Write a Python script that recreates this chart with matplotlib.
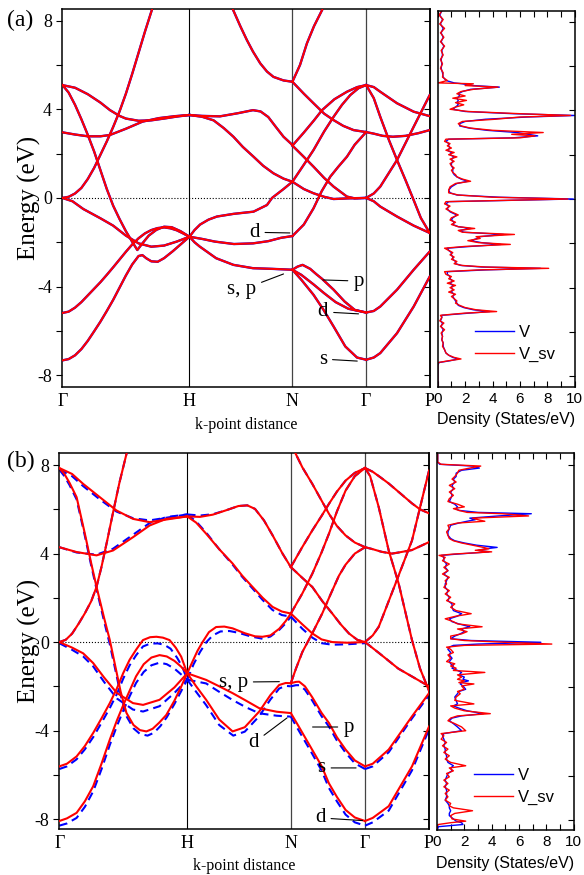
import matplotlib.pyplot as plt

plt.rcParams["font.family"] = ["Liberation Serif", "DejaVu Serif"]

# high-symmetry points along the path (k-point distance)
k_ticks = [0.0, 1.0, 1.81, 2.39, 2.89]
k_labels = ["Γ", "H", "N", "Γ", "P"]

# ---------------- panel (a) bands, (k, E) pairs ----------------
a_GH_steep = [(0, 5.1), (0.05, 4.75), (0.1, 4.2), (0.15, 3.55), (0.2, 2.85), (0.25, 2.1), (0.3, 1.25),
              (0.35, 0.4), (0.4, -0.35), (0.45, -0.95), (0.5, -1.5), (0.55, -1.98), (0.59, -2.35),
              (0.63, -2.05), (0.68, -1.7), (0.74, -1.44), (0.8, -1.3), (0.86, -1.32), (0.93, -1.5), (1.0, -1.75)]
a_GH_up = [(0, 0.0), (0.05, 0.05), (0.1, 0.2), (0.15, 0.45), (0.2, 0.85), (0.25, 1.35), (0.3, 1.95),
           (0.35, 2.55), (0.4, 3.2), (0.45, 3.9), (0.5, 4.7), (0.55, 5.6), (0.6, 6.55), (0.65, 7.5),
           (0.7, 8.4), (0.75, 9.3)]
a_GH_3 = [(0, 2.96), (0.1, 2.86), (0.2, 2.78), (0.3, 2.78), (0.375, 2.84), (0.5, 3.12), (0.63, 3.44),
          (0.76, 3.6), (0.89, 3.69), (1.0, 3.74)]
a_GH_5 = [(0, 5.09), (0.1, 4.97), (0.2, 4.68), (0.3, 4.3), (0.375, 3.96), (0.45, 3.7), (0.5, 3.58),
          (0.6, 3.48), (0.7, 3.5), (0.8, 3.58), (0.9, 3.67), (1.0, 3.74)]
a_GH_s = [(0, -7.33), (0.05, -7.27), (0.1, -7.1), (0.15, -6.82), (0.2, -6.45), (0.25, -6.02), (0.3, -5.58),
          (0.35, -5.1), (0.4, -4.6), (0.45, -4.05), (0.5, -3.5), (0.55, -3.0), (0.6, -2.62), (0.63, -2.58),
          (0.66, -2.72), (0.7, -2.86), (0.75, -2.88), (0.8, -2.72), (0.87, -2.4), (0.94, -2.05), (1.0, -1.75)]
a_GH_d = [(0, -5.19), (0.05, -5.13), (0.1, -4.95), (0.15, -4.7), (0.2, -4.4), (0.25, -4.1), (0.3, -3.8),
          (0.35, -3.47), (0.4, -3.13), (0.45, -2.78), (0.5, -2.43), (0.55, -2.1), (0.6, -1.82), (0.65, -1.6),
          (0.7, -1.45), (0.75, -1.36), (0.8, -1.33), (0.85, -1.37), (0.9, -1.46), (0.95, -1.6), (1.0, -1.75)]
a_GH_down = [(0, 0.0), (0.08, -0.15), (0.165, -0.5), (0.3, -0.92), (0.4, -1.25), (0.5, -1.7), (0.6, -2.05),
             (0.7, -2.2), (0.8, -2.15), (0.9, -1.97), (1.0, -1.75)]

a_HN_1 = [(1.0, 3.74), (1.1, 3.7), (1.24, 3.68), (1.38, 3.82), (1.5, 3.96), (1.56, 3.9), (1.62, 3.65),
          (1.68, 3.2), (1.74, 2.76), (1.81, 2.39)]
a_HN_2 = [(1.0, 3.74), (1.1, 3.66), (1.19, 3.5), (1.27, 3.15), (1.346, 2.76), (1.42, 2.3), (1.504, 1.86),
          (1.58, 1.45), (1.661, 1.11), (1.74, 0.87), (1.81, 0.73)]
a_HN_3 = [(1.3, 9.0), (1.346, 8.45), (1.4, 7.75), (1.452, 7.12), (1.5, 6.6), (1.557, 6.07), (1.61, 5.7),
          (1.661, 5.46), (1.74, 5.3), (1.81, 5.24)]
a_HN_4 = [(1.0, -1.75), (1.04, -1.45), (1.084, -1.2), (1.15, -0.98), (1.216, -0.84), (1.346, -0.72),
          (1.504, -0.62), (1.61, -0.32), (1.65, 0.0), (1.74, 0.4), (1.81, 0.73)]
a_HN_5 = [(1.0, -1.75), (1.1, -1.85), (1.2, -1.97), (1.35, -2.08), (1.5, -2.05), (1.62, -1.95),
          (1.72, -1.8), (1.81, -1.72)]
a_HN_6 = [(1.0, -1.75), (1.04, -2.0), (1.08, -2.19), (1.21, -2.72), (1.346, -3.02), (1.5, -3.17),
          (1.65, -3.2), (1.81, -3.24)]

a_NG_1 = [(1.81, 5.24), (1.87, 6.0), (1.924, 6.97), (1.98, 7.75), (2.043, 8.47), (2.1, 9.2)]
a_NG_2 = [(1.81, 5.24), (1.9, 4.7), (1.976, 4.27), (2.06, 3.8), (2.134, 3.51), (2.21, 3.25), (2.291, 3.06),
          (2.39, 2.97)]
a_NG_3 = [(1.81, 2.36), (1.9, 2.95), (1.98, 3.5), (2.043, 3.96), (2.14, 4.45), (2.239, 4.79), (2.32, 5.0),
          (2.39, 5.09)]
a_NG_4 = [(1.81, 2.36), (1.9, 1.85), (1.976, 1.41), (2.06, 0.9), (2.134, 0.51), (2.239, 0.06), (2.3, -0.02),
          (2.39, 0.0)]
a_NG_5 = [(1.81, 0.73), (1.9, 1.5), (1.976, 2.16), (2.06, 3.0), (2.134, 3.66), (2.2, 4.2), (2.265, 4.64),
          (2.33, 4.95), (2.39, 5.09)]
a_NG_6 = [(1.81, -1.72), (1.9, -1.2), (1.976, -0.47), (2.04, 0.3), (2.108, 0.96), (2.17, 1.4), (2.239, 1.86),
          (2.3, 2.4), (2.39, 2.97)]
a_NG_7 = [(1.81, 0.73), (1.9, 0.4), (1.976, 0.21), (2.06, 0.05), (2.134, -0.05), (2.25, -0.02), (2.39, 0.0)]
a_NG_p = [(1.81, -3.24), (1.85, -3.1), (1.89, -3.02), (1.95, -3.2), (2.0, -3.45), (2.043, -3.65),
          (2.134, -4.14), (2.22, -4.67), (2.3, -5.05), (2.39, -5.17)]
a_NG_d = [(1.81, -3.24), (1.88, -3.47), (1.976, -3.9), (2.06, -4.3), (2.15, -4.7), (2.25, -5.0), (2.39, -5.17)]
a_NG_s = [(1.81, -3.24), (1.88, -3.69), (1.976, -4.37), (2.055, -5.05), (2.134, -5.8), (2.226, -6.7),
          (2.318, -7.2), (2.39, -7.3)]

a_GP_1 = [(2.39, 5.09), (2.45, 5.0), (2.501, 4.79), (2.633, 4.27), (2.764, 3.89), (2.89, 3.69)]
a_GP_2 = [(2.39, 5.09), (2.45, 4.5), (2.501, 3.66), (2.57, 2.6), (2.633, 1.71), (2.7, 0.8), (2.764, -0.1),
          (2.82, -0.9), (2.89, -1.58)]
a_GP_3 = [(2.39, 2.97), (2.45, 2.9), (2.52, 2.8), (2.6, 2.76), (2.7, 2.8), (2.8, 2.92), (2.89, 3.06)]
a_GP_4 = [(2.39, 0.0), (2.45, 0.2), (2.501, 0.51), (2.633, 1.71), (2.764, 3.21), (2.89, 4.64)]
a_GP_5 = [(2.39, 0.0), (2.45, -0.15), (2.501, -0.39), (2.633, -0.84), (2.764, -1.25), (2.89, -1.58)]
a_GP_6 = [(2.39, -5.17), (2.45, -5.1), (2.501, -4.9), (2.633, -4.14), (2.764, -3.24), (2.89, -2.42)]
a_GP_7 = [(2.39, -7.3), (2.45, -7.2), (2.501, -7.0), (2.633, -6.1), (2.764, -4.9), (2.89, -3.55)]

bands_a = [a_GH_steep, a_GH_up, a_GH_3, a_GH_5, a_GH_s, a_GH_d, a_GH_down,
           a_HN_1, a_HN_2, a_HN_3, a_HN_4, a_HN_5, a_HN_6,
           a_NG_1, a_NG_2, a_NG_3, a_NG_4, a_NG_5, a_NG_6, a_NG_7, a_NG_p, a_NG_d, a_NG_s,
           a_GP_1, a_GP_2, a_GP_3, a_GP_4, a_GP_5, a_GP_6, a_GP_7]

# ---------------- panel (b) bands: V_sv (red) and V (blue) ----------------
b_GH_1 = [(0, 7.87), (0.1, 7.6), (0.187, 7.15), (0.317, 6.55), (0.447, 5.95), (0.576, 5.57), (0.706, 5.42),
          (0.836, 5.54), (1.0, 5.68)]
b_GH_1_V = [(0, 7.8), (0.1, 7.5), (0.187, 7.05), (0.317, 6.45), (0.447, 5.9), (0.576, 5.6), (0.706, 5.5),
            (0.836, 5.62), (1.0, 5.77)]
b_GH_2 = [(0, 7.87), (0.04, 7.6), (0.08, 7.2), (0.1355, 6.55), (0.2, 4.9), (0.25, 3.55), (0.291, 2.5),
          (0.35, 1.1), (0.395, 0.09), (0.44, -1.15), (0.48, -2.25), (0.525, -3.2), (0.58, -3.75),
          (0.63, -3.98), (0.681, -4.04), (0.73, -3.92), (0.78, -3.65), (0.836, -3.3), (0.9, -2.65),
          (0.95, -2.05), (1.0, -1.41)]
b_GH_2_V = [(0, 7.8), (0.04, 7.5), (0.08, 7.1), (0.1355, 6.45), (0.2, 4.8), (0.25, 3.45), (0.291, 2.4),
            (0.35, 0.95), (0.395, -0.1), (0.44, -1.3), (0.48, -2.4), (0.525, -3.35), (0.58, -3.9),
            (0.63, -4.15), (0.69, -4.23), (0.74, -4.1), (0.79, -3.8), (0.84, -3.4), (0.9, -2.8),
            (0.95, -2.25), (1.0, -1.7)]
b_GH_3 = [(0, 4.29), (0.1355, 4.07), (0.291, 3.92), (0.42, 4.14), (0.576, 4.74), (0.706, 5.27),
          (0.836, 5.57), (1.0, 5.68)]
b_GH_3_V = [(0, 4.29), (0.1355, 4.05), (0.291, 3.95), (0.42, 4.22), (0.576, 4.85), (0.706, 5.38),
            (0.836, 5.65), (1.0, 5.77)]
b_GH_4 = [(0, 0.0), (0.05, 0.1), (0.1, 0.38), (0.15, 0.82), (0.2, 1.3), (0.25, 1.85), (0.291, 2.49),
          (0.33, 3.4), (0.375, 4.6), (0.42, 5.85), (0.47, 7.2), (0.525, 8.5), (0.56, 9.3)]
b_GH_5 = [(0, 0.0), (0.1, -0.25), (0.187, -0.51), (0.265, -0.95), (0.35, -1.6), (0.45, -2.3),
          (0.576, -2.76), (0.655, -2.84), (0.784, -2.61), (0.9, -2.05), (1.0, -1.41)]
b_GH_5_V = [(0, -0.05), (0.1, -0.35), (0.187, -0.65), (0.265, -1.1), (0.35, -1.8), (0.45, -2.55),
            (0.576, -3.05), (0.655, -3.14), (0.784, -2.9), (0.9, -2.3), (1.0, -1.7)]
b_GH_6 = [(0, -5.62), (0.06, -5.5), (0.1355, -5.17), (0.2, -4.7), (0.265, -4.11), (0.33, -3.45),
          (0.395, -2.76), (0.45, -2.1), (0.5, -1.4), (0.55, -0.8), (0.6, -0.35), (0.654, 0.09),
          (0.71, 0.22), (0.759, 0.24), (0.81, 0.2), (0.862, 0.09), (0.91, -0.25), (0.953, -0.66), (1.0, -1.41)]
b_GH_6_V = [(0, -5.74), (0.06, -5.62), (0.1355, -5.3), (0.2, -4.85), (0.265, -4.3), (0.33, -3.65),
            (0.395, -2.98), (0.45, -2.35), (0.5, -1.65), (0.55, -1.05), (0.6, -0.6), (0.654, -0.2),
            (0.71, -0.07), (0.77, -0.06), (0.82, -0.12), (0.87, -0.3), (0.92, -0.7), (0.96, -1.1), (1.0, -1.7)]
b_GH_7 = [(0, -8.09), (0.06, -7.97), (0.1355, -7.72), (0.2, -7.2), (0.265, -6.52), (0.33, -5.5),
          (0.395, -4.41), (0.45, -3.55), (0.5, -2.85), (0.55, -2.2), (0.6, -1.55), (0.66, -1.0),
          (0.72, -0.7), (0.784, -0.59), (0.84, -0.65), (0.9, -0.85), (0.95, -1.1), (1.0, -1.41)]
b_GH_7_V = [(0, -8.3), (0.06, -8.2), (0.1355, -7.95), (0.2, -7.45), (0.265, -6.75), (0.33, -5.75),
            (0.395, -4.65), (0.45, -3.8), (0.5, -3.1), (0.55, -2.45), (0.6, -1.85), (0.66, -1.35),
            (0.72, -1.05), (0.784, -0.93), (0.84, -1.0), (0.9, -1.2), (0.95, -1.45), (1.0, -1.7)]

b_HN_1 = [(1.0, 5.68), (1.1, 5.66), (1.2, 5.76), (1.3, 5.95), (1.4, 6.15), (1.47, 6.18), (1.53, 6.02),
          (1.6, 5.5), (1.67, 4.8), (1.745, 4.0), (1.81, 3.39)]
b_HN_1_V = [(1.0, 5.77), (1.1, 5.72), (1.2, 5.78), (1.3, 5.95), (1.4, 6.15), (1.47, 6.18), (1.53, 6.02),
            (1.6, 5.5), (1.67, 4.8), (1.745, 4.0), (1.81, 3.39)]
b_HN_2 = [(1.0, 5.68), (1.07, 5.4), (1.148, 4.9), (1.25, 4.2), (1.355, 3.55), (1.43, 3.0), (1.511, 2.49),
          (1.59, 2.0), (1.667, 1.59), (1.74, 1.38), (1.81, 1.29)]
b_HN_2_V = [(1.0, 5.77), (1.07, 5.45), (1.148, 4.95), (1.25, 4.2), (1.355, 3.5), (1.43, 2.95), (1.511, 2.42),
            (1.59, 1.9), (1.667, 1.45), (1.74, 1.22), (1.81, 1.15)]
b_HN_3 = [(1.0, -1.41), (1.04, -0.9), (1.08, -0.4), (1.12, 0.0), (1.17, 0.45), (1.226, 0.68), (1.29, 0.7),
          (1.355, 0.62), (1.45, 0.4), (1.53, 0.26), (1.589, 0.24), (1.65, 0.3), (1.719, 0.6), (1.77, 0.95),
          (1.81, 1.29)]
b_HN_3_V = [(1.0, -1.7), (1.05, -1.0), (1.1, -0.45), (1.15, 0.0), (1.2, 0.3), (1.26, 0.48), (1.33, 0.5),
            (1.4, 0.42), (1.5, 0.25), (1.589, 0.15), (1.65, 0.25), (1.719, 0.55), (1.77, 0.85), (1.81, 1.15)]
b_HN_4 = [(1.0, -1.41), (1.148, -1.71), (1.25, -2.0), (1.355, -2.31), (1.46, -2.65), (1.563, -2.99),
          (1.7, -3.15), (1.81, -3.21)]
b_HN_4_V = [(1.0, -1.7), (1.148, -1.87), (1.25, -2.25), (1.355, -2.62), (1.46, -2.95), (1.563, -3.22),
            (1.7, -3.33), (1.81, -3.37)]
b_HN_5 = [(1.0, -1.41), (1.07, -2.0), (1.148, -2.61), (1.25, -3.5), (1.355, -4.04), (1.45, -3.85),
          (1.563, -3.14), (1.65, -2.4), (1.719, -1.94), (1.77, -1.85), (1.81, -1.86)]
b_HN_5_V = [(1.0, -1.7), (1.07, -2.25), (1.148, -2.85), (1.25, -3.75), (1.36, -4.23), (1.45, -4.05),
            (1.563, -3.35), (1.65, -2.6), (1.719, -2.1), (1.77, -1.98), (1.81, -2.0)]
b_HN_6 = [(1.81, 8.95), (1.77, 9.6)]

b_NG_1 = [(1.81, 8.95), (1.849, 8.5), (1.9, 7.9), (1.978, 7.15), (2.05, 6.4), (2.108, 5.8), (2.17, 5.25),
          (2.238, 4.82), (2.31, 4.5), (2.39, 4.29)]
b_NG_2 = [(1.81, 3.39), (1.9, 4.3), (1.978, 5.05), (2.05, 5.7), (2.108, 6.25), (2.17, 6.8), (2.238, 7.3),
          (2.31, 7.65), (2.39, 7.87)]
b_NG_3 = [(1.81, 3.39), (1.9, 2.9), (1.978, 2.49), (2.056, 1.85), (2.134, 1.29), (2.2, 0.8), (2.264, 0.39),
          (2.33, 0.1), (2.39, 0.0)]
b_NG_4 = [(1.81, 1.29), (1.9, 2.2), (1.978, 3.09), (2.05, 4.05), (2.108, 4.9), (2.17, 5.9), (2.238, 6.85),
          (2.31, 7.5), (2.39, 7.87)]
b_NG_5 = [(1.81, 1.29), (1.9, 0.8), (1.978, 0.39), (2.05, 0.12), (2.134, 0.0), (2.25, -0.03), (2.39, 0.0)]
b_NG_5_V = [(1.81, 1.15), (1.9, 0.6), (1.978, 0.2), (2.05, -0.05), (2.134, -0.12), (2.25, -0.1), (2.39, -0.05)]
b_NG_6 = [(1.81, -1.86), (1.85, -1.2), (1.9, -0.45), (1.978, 0.4), (2.056, 1.3), (2.12, 2.15), (2.186, 3.0),
          (2.238, 3.5), (2.31, 4.0), (2.39, 4.29)]
b_NG_7 = [(1.81, -1.86), (1.85, -1.8), (1.875, -1.79), (1.92, -2.0), (1.978, -2.5), (2.05, -3.2),
          (2.108, -3.66), (2.17, -4.3), (2.238, -4.86), (2.31, -5.35), (2.39, -5.62)]
b_NG_7_V = [(1.81, -2.0), (1.85, -1.95), (1.875, -1.95), (1.92, -2.15), (1.978, -2.65), (2.05, -3.35),
            (2.108, -3.82), (2.17, -4.45), (2.238, -5.0), (2.31, -5.48), (2.39, -5.74)]
b_NG_8 = [(1.81, -3.21), (1.87, -3.8), (1.978, -4.88), (2.05, -5.6), (2.108, -6.39), (2.17, -7.0),
          (2.238, -7.59), (2.31, -7.93), (2.39, -8.09)]
b_NG_8_V = [(1.81, -3.37), (1.87, -3.98), (1.978, -5.06), (2.05, -5.8), (2.108, -6.6), (2.17, -7.2),
            (2.238, -7.8), (2.31, -8.15), (2.39, -8.3)]

b_GP_1 = [(2.39, 7.87), (2.45, 7.7), (2.51, 7.45), (2.575, 7.17), (2.65, 6.8), (2.757, 6.27), (2.82, 6.0),
          (2.89, 5.82)]
b_GP_2 = [(2.39, 7.87), (2.43, 7.5), (2.497, 6.1), (2.575, 4.14), (2.653, 2.64), (2.757, 0.09), (2.82, -1.2),
          (2.89, -2.2)]
b_GP_3 = [(2.39, 4.29), (2.45, 4.2), (2.52, 4.08), (2.601, 4.0), (2.653, 4.05), (2.757, 4.16), (2.89, 4.52)]
b_GP_4 = [(2.39, 0.0), (2.45, 0.3), (2.497, 0.69), (2.628, 2.64), (2.757, 4.59), (2.89, 7.75)]
b_GP_5 = [(2.39, 0.0), (2.5, -0.5), (2.65, -1.2), (2.89, -2.0)]
b_GP_6 = [(2.39, -5.62), (2.45, -5.5), (2.575, -4.86), (2.757, -3.36), (2.89, -2.31)]
b_GP_6_V = [(2.39, -5.74), (2.45, -5.62), (2.575, -4.98), (2.757, -3.45), (2.89, -2.4)]
b_GP_7 = [(2.39, -8.09), (2.45, -7.95), (2.575, -7.42), (2.757, -5.62), (2.89, -3.82)]
b_GP_7_V = [(2.39, -8.3), (2.45, -8.15), (2.575, -7.62), (2.757, -5.8), (2.89, -3.95)]

# (red, blue) pairs; blue equals red where the two lie on top of each other
bands_b = [(b_GH_1, b_GH_1_V), (b_GH_2, b_GH_2_V), (b_GH_3, b_GH_3_V), (b_GH_4, b_GH_4), (b_GH_5, b_GH_5_V),
           (b_GH_6, b_GH_6_V), (b_GH_7, b_GH_7_V), (b_HN_1, b_HN_1_V), (b_HN_2, b_HN_2_V), (b_HN_3, b_HN_3_V),
           (b_HN_4, b_HN_4_V), (b_HN_5, b_HN_5_V), (b_HN_6, b_HN_6), (b_NG_1, b_NG_1), (b_NG_2, b_NG_2),
           (b_NG_3, b_NG_3), (b_NG_4, b_NG_4), (b_NG_5, b_NG_5_V), (b_NG_6, b_NG_6), (b_NG_7, b_NG_7_V),
           (b_NG_8, b_NG_8_V), (b_GP_1, b_GP_1), (b_GP_2, b_GP_2), (b_GP_3, b_GP_3), (b_GP_4, b_GP_4),
           (b_GP_5, b_GP_5), (b_GP_6, b_GP_6_V), (b_GP_7, b_GP_7_V)]

# ---------------- density of states ----------------
dos_a_E = [8.5, 8.3, 8.1, 7.9, 7.7, 7.5, 7.3, 7.1, 6.9, 6.7, 6.5, 6.3, 6.1, 5.9, 5.7, 5.5, 5.35, 5.24, 5.2,
           5.12, 5.05, 4.95, 4.85, 4.75, 4.65, 4.55, 4.45, 4.35, 4.25, 4.15, 4.05, 3.95, 3.85, 3.77, 3.7, 3.6,
           3.5, 3.4, 3.3, 3.2, 3.1, 3.0, 2.92, 2.85, 2.76, 2.7, 2.6, 2.5, 2.4, 2.3, 2.2, 2.1, 2.0, 1.9, 1.8,
           1.7, 1.6, 1.5, 1.4, 1.3, 1.2, 1.1, 1.0, 0.9, 0.8, 0.7, 0.55, 0.4, 0.28, 0.18, 0.08, 0.0, -0.06,
           -0.12, -0.22, -0.32, -0.45, -0.58, -0.72, -0.85, -0.95, -1.05, -1.15, -1.25, -1.33, -1.42, -1.5,
           -1.6, -1.7, -1.78, -1.88, -1.97, -2.05, -2.14, -2.22, -2.32, -2.42, -2.52, -2.62, -2.72, -2.82,
           -2.92, -3.0, -3.07, -3.13, -3.2, -3.28, -3.4, -3.5, -3.6, -3.7, -3.8, -3.9, -4.0, -4.1, -4.2, -4.3,
           -4.4, -4.5, -4.6, -4.7, -4.8, -4.9, -5.0, -5.08, -5.15, -5.25, -5.35, -5.5, -5.6, -5.75, -5.9,
           -6.05, -6.2, -6.35, -6.5, -6.65, -6.8, -6.95, -7.05, -7.15, -7.22, -7.3, -7.38, -7.5, -8.5]
dos_a_Vsv = [0.3, 0.1, 0.4, 0.15, 0.5, 0.2, 0.45, 0.2, 0.5, 0.25, 0.4, 0.2, 0.35, 0.2, 0.4, 0.35, 0.7, 0.05,
             2.6, 2.0, 4.4, 2.6, 1.7, 1.4, 2.0, 1.1, 2.1, 1.3, 1.9, 1.3, 0.9, 2.2, 6.0, 9.7, 6.0, 4.2, 1.8, 1.5,
             1.7, 2.4, 4.0, 7.7, 5.4, 7.1, 6.0, 0.6, 0.5, 0.9, 0.7, 1.0, 0.6, 1.2, 0.8, 1.4, 0.9, 1.2, 0.9,
             1.0, 1.2, 1.0, 1.1, 1.3, 1.4, 1.8, 2.4, 1.3, 0.9, 0.8, 0.8, 1.5, 4.0, 9.5, 5.0, 0.6, 0.5, 0.9,
             0.6, 1.0, 1.5, 1.0, 0.9, 1.3, 1.0, 1.5, 2.7, 1.5, 1.8, 5.6, 2.8, 3.1, 2.2, 3.0, 5.3, 2.0, 0.5,
             0.8, 1.1, 0.9, 1.2, 1.0, 1.4, 1.2, 1.8, 3.5, 8.1, 3.0, 0.5, 0.6, 1.0, 0.8, 1.2, 0.7, 1.3, 0.9,
             1.2, 0.8, 1.3, 1.0, 1.2, 1.4, 1.3, 1.6, 2.0, 2.8, 4.3, 2.0, 0.2, 0.3, 0.15, 0.45, 0.2, 0.5, 0.25,
             0.35, 0.3, 0.4, 0.35, 0.5, 0.6, 0.8, 1.2, 1.7, 0.8, 0.05, 0.0, 0.0]
dos_a_V = [0.3, 0.15, 0.35, 0.2, 0.4, 0.25, 0.4, 0.25, 0.45, 0.3, 0.35, 0.25, 0.3, 0.25, 0.35, 0.4, 0.6, 1.2,
           1.8, 2.6, 4.5, 2.4, 1.8, 1.5, 1.6, 1.4, 1.5, 1.4, 1.5, 1.3, 1.1, 2.0, 5.5, 10.0, 6.5, 3.5, 2.0, 1.6,
           1.6, 2.3, 3.6, 5.8, 6.6, 7.3, 5.5, 0.8, 0.6, 0.8, 0.8, 0.9, 0.7, 1.0, 0.9, 1.2, 1.0, 1.1, 1.0, 1.0,
           1.1, 1.1, 1.1, 1.2, 1.4, 1.7, 2.2, 1.4, 1.0, 0.8, 0.9, 1.4, 4.5, 9.9, 5.5, 0.8, 0.6, 0.8, 0.7, 0.9,
           1.4, 1.1, 1.0, 1.2, 1.1, 1.5, 2.4, 1.6, 1.9, 4.8, 3.1, 2.9, 2.4, 3.2, 4.6, 2.4, 0.7, 0.8, 1.0, 1.0,
           1.1, 1.1, 1.3, 1.3, 1.7, 3.2, 7.5, 3.5, 0.7, 0.7, 0.9, 0.9, 1.1, 0.9, 1.1, 1.0, 1.1, 1.0, 1.2, 1.1,
           1.2, 1.3, 1.4, 1.5, 1.9, 2.6, 3.8, 2.3, 0.3, 0.3, 0.2, 0.35, 0.25, 0.4, 0.3, 0.35, 0.3, 0.4, 0.4,
           0.5, 0.6, 0.8, 1.1, 1.5, 0.9, 0.1, 0.0, 0.0]

dos_b_E = [8.5, 8.15, 8.05, 7.97, 7.88, 7.78, 7.65, 7.5, 7.38, 7.25, 7.1, 6.95, 6.8, 6.65, 6.5, 6.37, 6.25,
           6.13, 6.05, 5.97, 5.88, 5.82, 5.72, 5.62, 5.55, 5.48, 5.4, 5.3, 5.15, 5.0, 4.85, 4.7, 4.6, 4.5,
           4.4, 4.3, 4.24, 4.17, 4.1, 4.0, 3.94, 3.85, 3.7, 3.55, 3.4, 3.25, 3.1, 2.95, 2.8, 2.65, 2.5, 2.35,
           2.2, 2.05, 1.9, 1.75, 1.6, 1.45, 1.31, 1.2, 1.08, 0.95, 0.85, 0.72, 0.62, 0.5, 0.4, 0.3, 0.18, 0.1,
           0.02, -0.06, -0.12, -0.2, -0.3, -0.44, -0.55, -0.7, -0.85, -0.95, -1.05, -1.15, -1.25, -1.34,
           -1.45, -1.55, -1.65, -1.72, -1.8, -1.86, -1.95, -2.1, -2.2, -2.3, -2.45, -2.6, -2.76, -2.85, -2.95,
           -3.07, -3.2, -3.3, -3.4, -3.52, -3.65, -3.8, -3.97, -4.1, -4.2, -4.35, -4.5, -4.65, -4.8, -4.95,
           -5.1, -5.25, -5.4, -5.55, -5.65, -5.78, -5.9, -6.05, -6.2, -6.35, -6.5, -6.65, -6.8, -6.95, -7.1,
           -7.25, -7.36, -7.45, -7.58, -7.7, -7.8, -7.95, -8.05, -8.12, -8.2, -8.3, -8.5]
dos_b_Vsv = [0.05, 0.05, 0.3, 3.2, 2.4, 1.6, 1.5, 1.3, 1.1, 1.4, 0.9, 1.3, 0.9, 1.2, 0.9, 0.8, 1.5, 2.0, 1.2,
             1.6, 2.2, 4.8, 6.7, 2.6, 3.0, 3.5, 1.5, 0.8, 0.9, 0.7, 0.8, 0.9, 1.2, 1.8, 2.6, 3.4, 3.8, 2.8,
             4.0, 1.2, 0.15, 0.6, 0.4, 0.9, 0.5, 0.8, 0.4, 0.9, 0.6, 0.7, 0.5, 0.9, 0.6, 1.0, 0.7, 1.3, 1.0,
             1.4, 2.5, 1.4, 0.6, 1.2, 1.5, 3.3, 1.5, 2.2, 1.8, 1.0, 1.0, 2.0, 5.0, 8.4, 2.0, 0.7, 1.0, 1.2,
             0.8, 1.0, 0.7, 1.3, 1.0, 1.4, 1.2, 3.5, 1.5, 1.8, 1.5, 2.0, 1.6, 2.7, 1.8, 2.0, 1.5, 1.7, 1.4,
             1.3, 2.7, 1.0, 1.3, 2.0, 3.9, 1.5, 1.0, 0.8, 1.3, 1.8, 2.1, 0.3, 0.5, 0.3, 0.7, 0.4, 0.8, 0.5,
             0.9, 0.6, 1.0, 2.1, 0.9, 1.2, 0.7, 0.9, 0.5, 0.8, 0.5, 0.9, 0.6, 0.8, 0.6, 1.0, 0.9, 1.2, 2.6,
             1.3, 1.0, 1.1, 2.1, 1.0, 0.1, 0.0, 0.0]
dos_b_V = [0.05, 0.05, 0.2, 2.6, 3.1, 1.8, 1.4, 1.4, 1.2, 1.3, 1.1, 1.2, 1.0, 1.1, 1.0, 0.9, 1.3, 1.5, 1.4,
           1.6, 3.0, 6.9, 4.5, 2.4, 2.8, 2.2, 1.6, 1.0, 0.9, 0.8, 0.8, 1.0, 1.3, 2.0, 2.9, 4.4, 3.6, 3.0, 3.8,
           1.5, 0.3, 0.5, 0.5, 0.7, 0.6, 0.8, 0.5, 0.8, 0.7, 0.6, 0.6, 0.8, 0.7, 0.9, 0.8, 1.1, 1.1, 1.2, 1.8,
           1.5, 0.9, 1.1, 1.6, 2.4, 1.8, 2.0, 1.7, 1.3, 1.0, 2.5, 7.6, 3.0, 1.2, 0.9, 0.8, 1.0, 0.9, 1.1, 0.9,
           1.0, 1.2, 1.1, 1.5, 1.8, 1.6, 2.0, 1.9, 2.3, 1.8, 1.7, 1.9, 2.1, 1.6, 1.5, 1.3, 1.4, 1.5, 1.2, 1.6,
           2.2, 3.4, 1.8, 1.1, 0.9, 1.2, 1.5, 1.8, 0.5, 0.4, 0.5, 0.6, 0.5, 0.6, 0.6, 0.7, 0.7, 0.8, 1.2, 1.0,
           1.1, 0.8, 0.7, 0.6, 0.7, 0.6, 0.7, 0.7, 0.7, 0.6, 0.8, 0.9, 0.9, 1.0, 0.9, 0.9, 1.2, 1.4, 1.8,
           1.9, 0.1, 0.0]

RED = "#ff0000"
BLUE = "#0000ff"
sans = ["Liberation Sans", "DejaVu Sans"]


def band_panel(rect, ylim, panel_label, label_y):
    ax = fig.add_axes(rect)
    ax.set_xlim(k_ticks[0], k_ticks[-1])
    ax.set_ylim(*ylim)
    ax.axvline(k_ticks[1], color="k", lw=0.8, zorder=1)
    for k in k_ticks[2:-1]:
        ax.axvline(k, color="#444444", lw=0.9, zorder=1)
    ax.axhline(0, color="k", ls=":", lw=0.8, zorder=1)
    ax.set_xticks(k_ticks)
    ax.set_xticklabels(k_labels, fontsize=13)
    ax.tick_params(axis="x", length=0, pad=4)
    ax.set_yticks([-8, -4, 0, 4, 8])
    ax.set_yticklabels(["-8", "-4", "0", "4", "8"], fontsize=13)
    ax.set_yticks([-6, -2, 2, 6], minor=True)
    ax.tick_params(axis="y", which="both", direction="out", length=4, width=0.8, right=False)
    sec = ax.secondary_yaxis("right")
    sec.set_yticks([-8, -6, -4, -2, 0, 2, 4, 6, 8])
    sec.tick_params(direction="in", length=4, width=0.8, labelright=False)
    for sp in list(ax.spines.values()) + list(sec.spines.values()):
        sp.set_linewidth(1.1)
    ax.set_xlabel("k-point distance", fontsize=11.5, labelpad=5)
    fig.text(0.05, rect[1] + rect[3] / 2, "Energy (eV)", rotation=90, fontsize=18,
             ha="center", va="center")
    fig.text(0.012, label_y, panel_label, fontsize=17, ha="left", va="center")
    return ax


def dos_panel(rect, ylim, E, v, vsv, legend_y):
    ax = fig.add_axes(rect)
    ax.plot(v, E, color=BLUE, lw=1.0, label="V")
    ax.plot(vsv, E, color=RED, lw=1.0, label="V_sv")
    ax.set_xlim(0, 10)
    ax.set_ylim(*ylim)
    ax.set_xticks([0, 2, 4, 6, 8, 10])
    ax.set_xticks(range(11), minor=True)
    ax.set_yticks([-8, -6, -4, -2, 0, 2, 4, 6, 8])
    ax.tick_params(which="both", direction="in", top=True, bottom=True, left=False, right=True,
                   labelleft=False, length=4, width=0.8)
    for lab in ax.get_xticklabels():
        lab.set_family(sans)
        lab.set_fontsize(11)
    for sp in ax.spines.values():
        sp.set_linewidth(1.1)
    ax.set_xlabel("Density (States/eV)", fontsize=11.5, family=sans, labelpad=5)
    ax.legend(loc="upper left", bbox_to_anchor=(0.27, legend_y), frameon=False,
              prop={"family": sans, "size": 12}, handlelength=2.35, handletextpad=0.3,
              labelspacing=0.45, borderaxespad=0, borderpad=0)
    return ax


fig = plt.figure(figsize=(5.84, 8.75), dpi=100)

# ---- panel (a) ----
ax_a = band_panel([0.1067, 0.5577, 0.6291, 0.4317], (-8.53, 8.51), "(a)", 0.977)
for band in bands_a:
    k, e = zip(*band)
    ax_a.plot(k, e, color=BLUE, lw=1.7, zorder=2)
    ax_a.plot(k, e, color=RED, lw=1.5, zorder=3)

ann = dict(fontsize=15, arrowprops=dict(arrowstyle="-", lw=0.8, color="k", shrinkA=2, shrinkB=0))
ax_a.annotate("d", xy=(1.79, -1.58), xytext=(1.51, -1.55), ha="center", va="center", **ann)
ax_a.annotate("s, p", xy=(1.74, -3.43), xytext=(1.41, -4.15), ha="center", va="center", **ann)
ax_a.annotate("p", xy=(2.05, -3.7), xytext=(2.33, -3.75), ha="center", va="center", **ann)
ax_a.annotate("d", xy=(2.33, -5.23), xytext=(2.05, -5.14), ha="center", va="center", **ann)
ax_a.annotate("s", xy=(2.32, -7.36), xytext=(2.05, -7.27), ha="center", va="center", **ann)

dos_panel([0.7495, 0.5581, 0.2346, 0.4297], (-8.47, 8.5), dos_a_E, dos_a_V, dos_a_Vsv, 0.165)

# ---- panel (b) ----
ax_b = band_panel([0.1015, 0.0526, 0.6331, 0.4300], (-8.45, 8.56), "(b)", 0.473)
for red, blue in bands_b:
    k, e = zip(*blue)
    ax_b.plot(k, e, color=BLUE, lw=1.5, ls=(0, (4, 2.5)), zorder=2)
    k, e = zip(*red)
    ax_b.plot(k, e, color=RED, lw=1.5, zorder=3)

ax_b.annotate("s, p", xy=(1.72, -1.79), xytext=(1.36, -1.81), ha="center", va="center", **ann)
ax_b.annotate("d", xy=(1.78, -3.43), xytext=(1.52, -4.56), ha="center", va="center", **ann)
ax_b.annotate("p", xy=(1.98, -3.84), xytext=(2.26, -3.84), ha="center", va="center", **ann)
ax_b.annotate("s", xy=(2.32, -5.69), xytext=(2.05, -5.69), ha="center", va="center", **ann)
ax_b.annotate("d", xy=(2.37, -8.07), xytext=(2.04, -7.95), ha="center", va="center", **ann)

dos_panel([0.7483, 0.0514, 0.2340, 0.4309], (-8.45, 8.56), dos_b_E, dos_b_V, dos_b_Vsv, 0.165)

fig.savefig("out.png", dpi=100)
